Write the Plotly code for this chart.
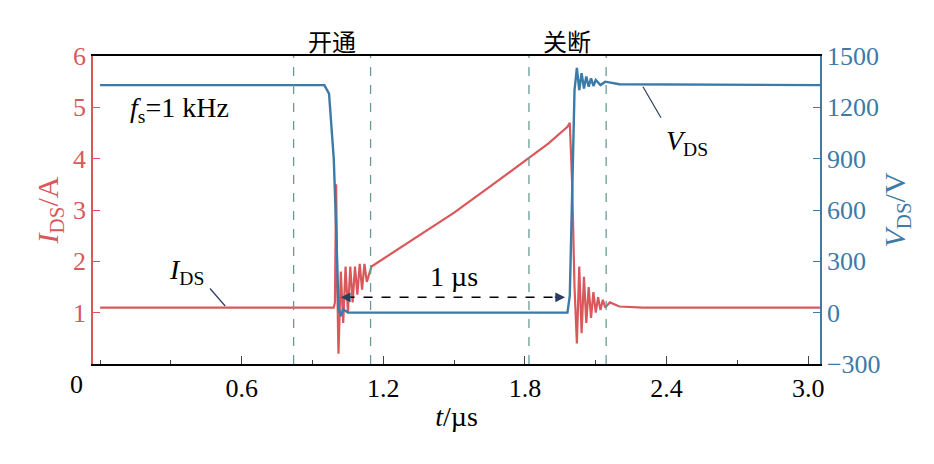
import plotly.graph_objects as go

RED = "#d9585c"
BLUE = "#3d7aa8"
GRID = "#6a9a98"

# I_DS waveform (A)
t_ids = [0, 0.99, 0.995, 1.0, 1.005, 1.01, 1.02, 1.03, 1.04, 1.05, 1.06, 1.07, 1.08, 1.09,
         1.10, 1.11, 1.12, 1.13, 1.15, 1.2, 1.35, 1.5, 1.65, 1.8, 1.9, 1.98, 1.99, 2.0,
         2.01, 2.02, 2.03, 2.04, 2.05, 2.06, 2.07, 2.08, 2.09, 2.10, 2.11, 2.12, 2.13,
         2.14, 2.16, 2.2, 2.3, 3.05]
ids = [1.1, 1.1, 1.2, 3.5, 1.5, 0.2, 1.8, 0.8, 1.9, 1.0, 1.9, 1.2, 1.9, 1.35,
       1.95, 1.45, 1.95, 1.6, 1.9, 2.05, 2.5, 2.95, 3.45, 3.95, 4.3, 4.62, 4.7, 3.5,
       1.5, 0.4, 1.9, 0.6, 1.7, 0.8, 1.5, 0.9, 1.4, 1.0, 1.3, 1.05, 1.25,
       1.1, 1.2, 1.12, 1.1, 1.1]

# V_DS waveform (V)
t_vds = [0, 0.95, 0.97, 0.99, 1.0, 1.01, 1.02, 1.03, 1.05, 1.98, 1.99, 2.0, 2.01, 2.02,
         2.03, 2.04, 2.05, 2.06, 2.07, 2.08, 2.09, 2.10, 2.12, 2.14, 2.2, 3.05]
vds = [1330, 1330, 1280, 900, 500, 30, -20, 20, 0, 0, 100, 800, 1300, 1430,
       1300, 1400, 1310, 1380, 1320, 1370, 1325, 1360, 1330, 1350, 1335, 1330]

x_ticks = [0.6, 1.2, 1.8, 2.4, 3.0]
x_ticktext = ["0.6", "1.2", "1.8", "2.4", "3.0"]
ids_ticks = [1, 2, 3, 4, 5, 6]
vds_ticks = [-300, 0, 300, 600, 900, 1200, 1500]
window_lines = [0.82, 1.146, 1.817, 2.144]

FONT = "Liberation Serif"
CJK = "Noto Sans CJK SC"
FS = 26

fig = go.Figure()
fig.add_trace(go.Scatter(x=t_vds, y=vds, mode="lines", line=dict(color=BLUE, width=2.4),
                         yaxis="y2", showlegend=False))
fig.add_trace(go.Scatter(x=t_ids, y=ids, mode="lines", line=dict(color=RED, width=2.2),
                         showlegend=False))

for x in window_lines:
    fig.add_shape(type="line", x0=x, x1=x, y0=0, y1=1, yref="paper",
                  line=dict(color=GRID, width=1.3, dash="dash"))

fig.update_layout(
    width=934, height=464,
    margin=dict(l=85, r=122, t=48, b=108),
    plot_bgcolor="white", paper_bgcolor="white",
    font=dict(family=FONT, size=FS, color="black"),
    xaxis=dict(range=[-0.03, 3.05], tickvals=x_ticks, ticktext=x_ticktext, ticks="inside",
               ticklen=8, minor=dict(ticks="inside", ticklen=4, dtick=0.3, tick0=0),
               showgrid=False, zeroline=False, showline=True, linecolor="black", linewidth=1.5,
               mirror=True, tickfont=dict(size=FS),
               title=dict(text="<i>t</i>/µs", font=dict(size=28), standoff=4)),
    yaxis=dict(range=[0, 6], tickvals=ids_ticks, ticks="inside", ticklen=7,
               showgrid=False, zeroline=False, showline=True, linecolor=RED, linewidth=1.5,
               tickfont=dict(color=RED, size=FS), tickcolor=RED,
               title=dict(text="<i>I</i><sub>DS</sub>/A", font=dict(color=RED, size=30), standoff=6)),
    yaxis2=dict(range=[-300, 1500], tickvals=vds_ticks, overlaying="y", side="right",
                ticks="inside", ticklen=7, showgrid=False, zeroline=False, showline=True,
                linecolor=BLUE, linewidth=1.5, tickfont=dict(color=BLUE, size=FS), tickcolor=BLUE,
                title=dict(text="<i>V</i><sub>DS</sub>/V", font=dict(color=BLUE, size=30), standoff=4)),
)

fig.add_annotation(x=0, y=0, xref="paper", yref="paper", text="0", showarrow=False,
                   xanchor="right", yanchor="top", xshift=-8, yshift=-4, font=dict(size=FS))
fig.add_annotation(x=0.983, y=1.0, xref="x", yref="paper", text="开通", showarrow=False,
                   yanchor="bottom", yshift=-4, font=dict(family=CJK, size=24))
fig.add_annotation(x=1.98, y=1.0, xref="x", yref="paper", text="关断", showarrow=False,
                   yanchor="bottom", yshift=-4, font=dict(family=CJK, size=24))
fig.add_annotation(x=0.12, y=4.95, xref="x", yref="y", text="<i>f</i><sub>s</sub>=1 kHz",
                   showarrow=False, xanchor="left", font=dict(size=28))
fig.add_annotation(x=0.53, y=1.13, ax=0.46, ay=1.5, xref="x", yref="y", axref="x", ayref="y",
                   text="", showarrow=True, arrowhead=0, arrowwidth=1.2)
fig.add_annotation(x=0.45, y=1.8, xref="x", yref="y", text="<i>I</i><sub>DS</sub>",
                   showarrow=False, xanchor="right", font=dict(size=28))
fig.add_annotation(x=2.30, y=1320, ax=2.38, ay=1130, xref="x", yref="y2", axref="x", ayref="y2",
                   text="", showarrow=True, arrowhead=0, arrowwidth=1.2)
fig.add_annotation(x=2.39, y=1110, xref="x", yref="y2", text="<i>V</i><sub>DS</sub>",
                   showarrow=False, xanchor="left", yanchor="top", font=dict(size=28))
fig.add_annotation(x=1.5, y=1.7, xref="x", yref="y", text="1 µs", showarrow=False,
                   font=dict(size=28))
# dashed double-headed arrow
fig.add_shape(type="line", x0=1.04, x1=1.95, y0=1.3, y1=1.3, xref="x", yref="y",
              line=dict(color="black", width=1.5, dash="dash"))
fig.add_annotation(x=1.02, y=1.3, ax=1.07, ay=1.3, xref="x", yref="y", axref="x", ayref="y",
                   text="", showarrow=True, arrowhead=2, arrowsize=1.3, arrowwidth=1.5)
fig.add_annotation(x=1.97, y=1.3, ax=1.92, ay=1.3, xref="x", yref="y", axref="x", ayref="y",
                   text="", showarrow=True, arrowhead=2, arrowsize=1.3, arrowwidth=1.5)

fig.write_html("out.html")
